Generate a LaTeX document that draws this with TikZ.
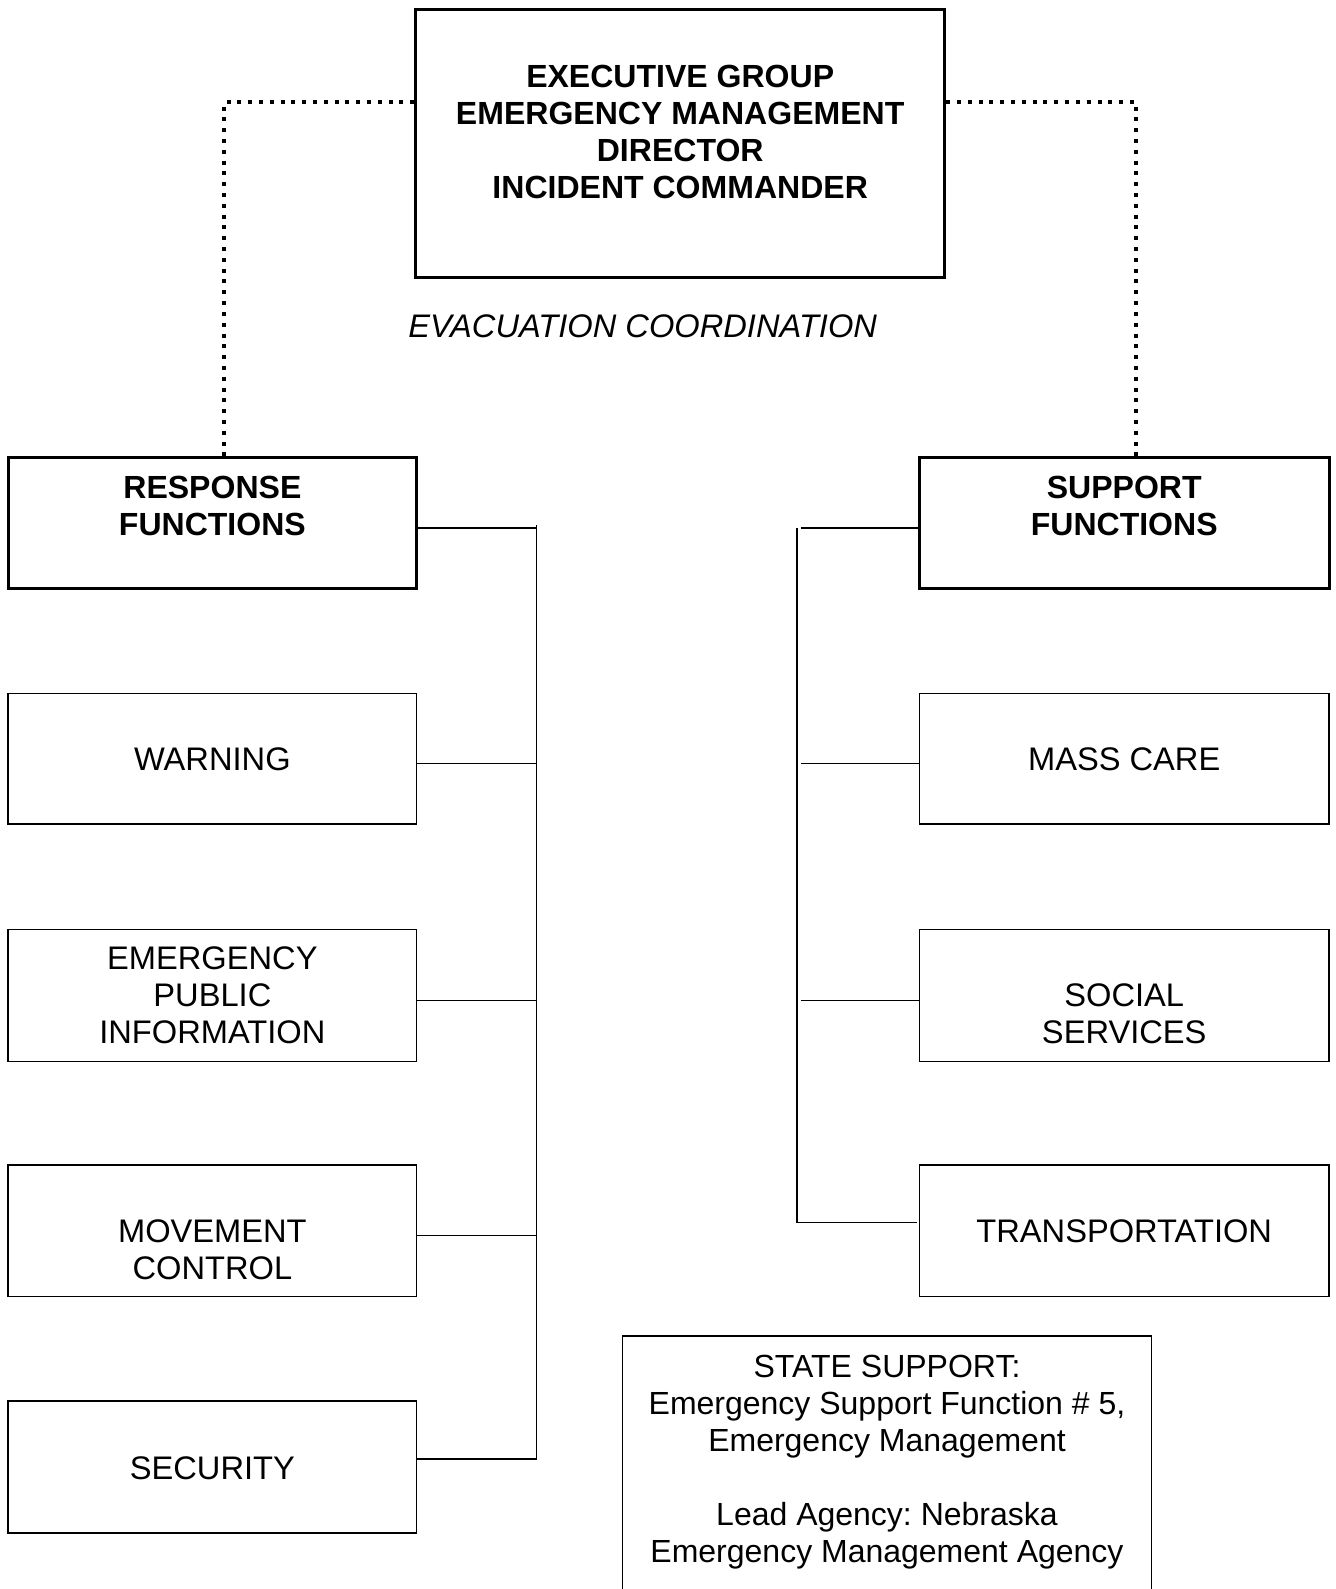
\documentclass[tikz,border=0pt]{standalone}
\usepackage{fontspec}
\setmainfont{Liberation Sans}
\frenchspacing
\def\sc{1.0137}
\begin{document}
\begin{tikzpicture}[x=1.0137pt,y=-1.0137pt,
  thickbox/.style={draw,line width=3pt,inner sep=0pt,minimum width=\sc*403pt,minimum height=\sc*130pt},
  thinbox/.style={draw,line width=1.5pt,inner sep=0pt,minimum width=\sc*403pt,minimum height=\sc*130pt},
  txt/.style={inner sep=0pt,align=center,font=\fontsize{32.64}{37}\selectfont},
  btxt/.style={txt,font=\fontsize{32.03}{37}\selectfont\bfseries},
  conn/.style={line width=1.5pt},
  dots/.style={line width=4pt,dash pattern=on 4pt off 6.8pt}]
\useasboundingbox (0,0) rectangle (1317,1567.5);
% top box
\node[thickbox,minimum width=\sc*522pt,minimum height=\sc*265pt] (top) at (671,141.5) {};
\node[btxt] (toptxt) at (671,130.5) {EXECUTIVE GROUP\\EMERGENCY MANAGEMENT\\DIRECTOR\\INCIDENT COMMANDER};
\node[txt,font=\fontsize{32.64}{37}\selectfont\itshape] (evac) at (634,322) {EVACUATION COORDINATION};
% response / support
\node[thickbox] (resp) at (209.5,516) {};
\node[btxt] (resptxt) at (209.5,499.5) {RESPONSE\\FUNCTIONS};
\node[thickbox,minimum width=\sc*404pt] (supp) at (1109,516) {};
\node[btxt] (supptxt) at (1109,499.5) {SUPPORT\\FUNCTIONS};
% left boxes
\node[thinbox,minimum height=\sc*129pt] (warn) at (209.5,748.5) {};
\node[txt] (warntxt) at (209.5,749) {WARNING};
\node[thinbox] (epi) at (209.5,982) {};
\node[txt] (epitxt) at (209.5,981.5) {EMERGENCY\\PUBLIC\\INFORMATION};
\node[thinbox] (move) at (209.5,1214) {};
\node[txt] (movetxt) at (209.5,1233) {MOVEMENT\\CONTROL};
\node[thinbox] (sec) at (209.5,1447) {};
\node[txt] (sectxt) at (209.5,1448) {SECURITY};
% right boxes
\node[thinbox,minimum width=\sc*404pt,minimum height=\sc*129pt] (mass) at (1109,748.5) {};
\node[txt] (masstxt) at (1109,749) {MASS CARE};
\node[thinbox,minimum width=\sc*404pt] (soc) at (1109,982) {};
\node[txt] (soctxt) at (1109,1000) {SOCIAL\\SERVICES};
\node[thinbox,minimum width=\sc*404pt] (trans) at (1109,1214) {};
\node[txt] (transtxt) at (1109,1215) {TRANSPORTATION};
% state support
\draw[line width=1.5pt] (614,1567.5) -- (614,1318) -- (1136,1318) -- (1136,1567.5);
\node[txt,font=\fontsize{32.0}{37}\selectfont] (state) at (875,1442) {STATE SUPPORT:\\Emergency Support Function \# 5,\\Emergency Management\\[37pt]Lead Agency: Nebraska\\Emergency Management Agency};
% dotted links
\coordinate (dl) at (221,101);
\coordinate (dr) at (1121,101);
\draw[dots] (top.west |- dl) -- (dl) -- (dl |- resp.north);
\draw[dots] (top.east |- dr) -- (dr) -- (dr |- supp.north);
% left bus
\coordinate (lt) at (529,518);
\coordinate (lb) at (529,1440);
\draw[conn] (lt) -- (lb);
\coordinate (l1) at (529,521);
\coordinate (l2) at (529,753);
\coordinate (l3) at (529,987);
\coordinate (l4) at (529,1219);
\coordinate (l5) at (529,1439);
\draw[conn] (resp.east |- l1) -- (l1);
\draw[conn] (warn.east |- l2) -- (l2);
\draw[conn] (epi.east |- l3) -- (l3);
\draw[conn] (move.east |- l4) -- (l4);
\draw[conn] (sec.east |- l5) -- (l5);
% right bus
\coordinate (rt) at (786,521);
\coordinate (rb) at (786,1206);
\draw[conn] (rt) -- (rb);
\coordinate (r1) at (790,521);
\coordinate (r2) at (790,753);
\coordinate (r3) at (790,987);
\coordinate (r4) at (786,1206);
\draw[conn] (r1) -- (supp.west |- r1);
\draw[conn] (r2) -- (mass.west |- r2);
\draw[conn] (r3) -- (soc.west |- r3);
\draw[conn] (r4) -- ([xshift=-2pt]trans.west |- r4);
\end{tikzpicture}
\end{document}
